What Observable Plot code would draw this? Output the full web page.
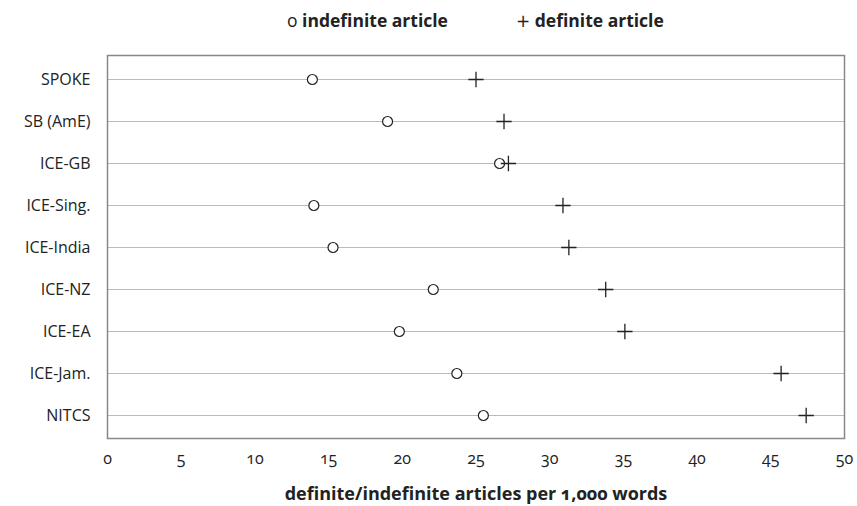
<!DOCTYPE html>
<html><head><meta charset="utf-8">
<script src="https://cdn.jsdelivr.net/npm/d3@7"></script>
<script src="https://cdn.jsdelivr.net/npm/@observablehq/plot@0.6"></script>
<style>
body{margin:0;background:#fff;font-family:"Open Sans",sans-serif;}
#legend{height:40px;position:relative;font-size:17.5px;color:#222;}
#legend > span{position:absolute;top:8px;white-space:nowrap;}
.pl{font-family:"DejaVu Sans",sans-serif;font-size:17px;}
b{font-weight:700}
svg text{font-family:"Open Sans",sans-serif;font-feature-settings:"onum";}
</style></head>
<body>
<div id="legend"><span style="left:287px">o <b>indefinite article</b></span><span style="left:516px"><span class="pl">+</span> <b>definite article</b></span></div>
<div id="chart"></div>
<script>
const corpora = ["SPOKE","SB (AmE)","ICE-GB","ICE-Sing.","ICE-India","ICE-NZ","ICE-EA","ICE-Jam.","NITCS"];
const indefinite = [13.9,19.0,26.6,14.0,15.3,22.1,19.8,23.7,25.5];
const definite = [25.0,26.9,27.2,30.9,31.3,33.8,35.1,45.7,47.4];
const xTicks = [0,5,10,15,20,25,30,35,40,45,50];

const indef = corpora.map((c,i)=>({corpus:c, value:indefinite[i]}));
const def = corpora.map((c,i)=>({corpus:c, value:definite[i]}));

const chart = Plot.plot({
  width: 857, height: 466,
  marginLeft: 107, marginRight: 13, marginTop: 15, marginBottom: 68,
  style: {fontSize: "16px", fontFamily: "Open Sans, sans-serif", color: "#222"},
  x: {domain:[0,50], ticks: xTicks, label: null},
  y: {domain: corpora, padding: 0.5, label: null},
  marks: [
    Plot.gridY({stroke:"#bbb", strokeOpacity:1, strokeWidth:1.2}),
    Plot.frame({stroke:"#888", strokeWidth:1.5}),
    Plot.dot(indef, {x:"value", y:"corpus", r:5, stroke:"#222", fill:"white", strokeWidth:1.2}),
    Plot.dot(def, {x:"value", y:"corpus", symbol:"plus", r:5, stroke:"#222", strokeWidth:1.3}),
    Plot.axisX({ticks: xTicks, tickSize:0, tickPadding:14, label:null, fontSize:16}),
    Plot.axisY({tickSize:0, tickPadding:17, label:null, fontSize:16}),
    Plot.text(["definite/indefinite articles per 1,000 words"], {frameAnchor:"bottom", dy:61, fontWeight:"bold", fontSize:18})
  ]
});
document.getElementById("chart").appendChild(chart);
</script>
</body></html>
